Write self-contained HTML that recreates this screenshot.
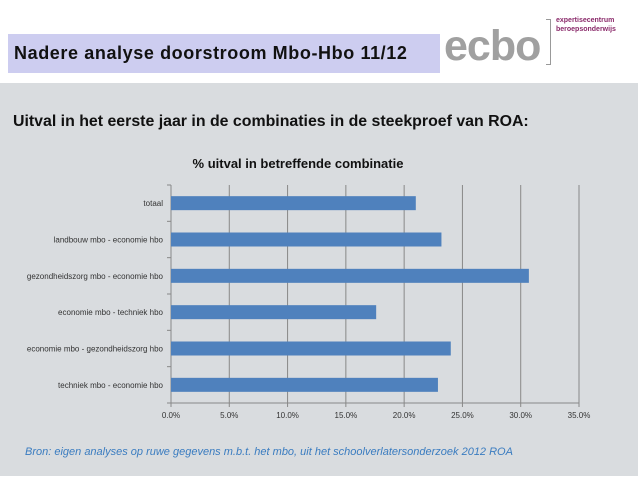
<!DOCTYPE html>
<html><head><meta charset="utf-8"><style>
body{margin:0;width:638px;height:479px;background:#fff;position:relative;overflow:hidden;font-family:"Liberation Sans",sans-serif}
.abs{position:absolute}
</style></head><body>
<div class="abs" style="left:8px;top:34px;width:432px;height:39px;background:#cdcdf0"></div>
<div class="abs" style="left:14px;top:43px;font-size:18px;font-weight:bold;color:#111;letter-spacing:0.6px">Nadere analyse doorstroom Mbo-Hbo 11/12</div>
<div class="abs" style="left:444px;top:22px;font-size:43px;font-weight:bold;color:#a0a0a0;line-height:48px;letter-spacing:-1px">ecbo</div>
<div class="abs" style="left:546px;top:19px;width:4px;height:44px;border:1px solid #999;border-left:none"></div>
<div class="abs" style="left:556px;top:16px;font-size:7px;font-weight:bold;color:#8a2a6a;line-height:9px">expertisecentrum<br>beroepsonderwijs</div>
<div class="abs" style="left:0;top:83px;width:638px;height:393px;background:#d9dcdf"></div>
<div class="abs" style="left:13px;top:113px;font-size:15.9px;font-weight:bold;color:#111">Uitval in het eerste jaar in de combinaties in de steekproef van ROA:</div>
<div class="abs" style="left:0;width:596px;top:156px;text-align:center;font-size:13px;font-weight:bold;color:#111">% uitval in betreffende combinatie</div>
<svg class="abs" style="left:0;top:0" width="638" height="479" id="chart"></svg>
<div class="abs" style="left:25px;top:446px;font-size:11px;font-style:italic;color:#3a7cc0">Bron: eigen analyses op ruwe gegevens m.b.t. het mbo, uit het schoolverlatersonderzoek 2012 ROA</div>
<script>
const categories=["totaal","landbouw mbo - economie hbo","gezondheidszorg mbo - economie hbo","economie mbo - techniek hbo","economie mbo - gezondheidszorg hbo","techniek mbo - economie hbo"];
const values=[21.0,23.2,30.7,17.6,24.0,22.9];
const ticks=[0,5,10,15,20,25,30,35];
const tickLabels=["0.0%","5.0%","10.0%","15.0%","20.0%","25.0%","30.0%","35.0%"];
const svg=document.getElementById('chart');
const NS="http://www.w3.org/2000/svg";
const x0=171,x1=579,yTop=185,yBot=403,xMax=35;
const xs=v=>x0+(v/xMax)*(x1-x0);
const band=(yBot-yTop)/categories.length;
function mk(t,a){const e=document.createElementNS(NS,t);for(const k in a)e.setAttribute(k,a[k]);svg.appendChild(e);return e;}
ticks.forEach((t,i)=>{
 const g=mk('line',{x1:xs(t),x2:xs(t),y1:yTop,y2:yBot+4,stroke:'#888','stroke-width':1});
 
 
 const l=mk('text',{x:xs(t),y:yBot+15,'text-anchor':'middle','font-size':8,fill:'#333','font-family':'Liberation Sans, sans-serif'});
 l.textContent=tickLabels[i];
 
 
});
const ax=mk('line',{x1:x0,x2:x0,y1:yTop,y2:yBot,stroke:'#888'});


const bx=mk('line',{x1:x0,x2:x1,y1:yBot,y2:yBot,stroke:'#888'});


for(let i=0;i<=categories.length;i++){
 const tk=mk('line',{x1:x0-4,x2:x0,y1:yTop+i*band,y2:yTop+i*band,stroke:'#888'});
 
 
}
categories.forEach((c,i)=>{
 const cy=yTop+band*(i+0.5);
 const r=mk('rect',{x:x0,y:cy-7,width:xs(values[i])-x0,height:14,fill:'#4f81bd'});
 
 
 const t=mk('text',{x:x0-8,y:cy+3,'text-anchor':'end','font-size':8,fill:'#333','font-family':'Liberation Sans, sans-serif'});
 t.textContent=c;
 
 
});
</script>
</body></html>
